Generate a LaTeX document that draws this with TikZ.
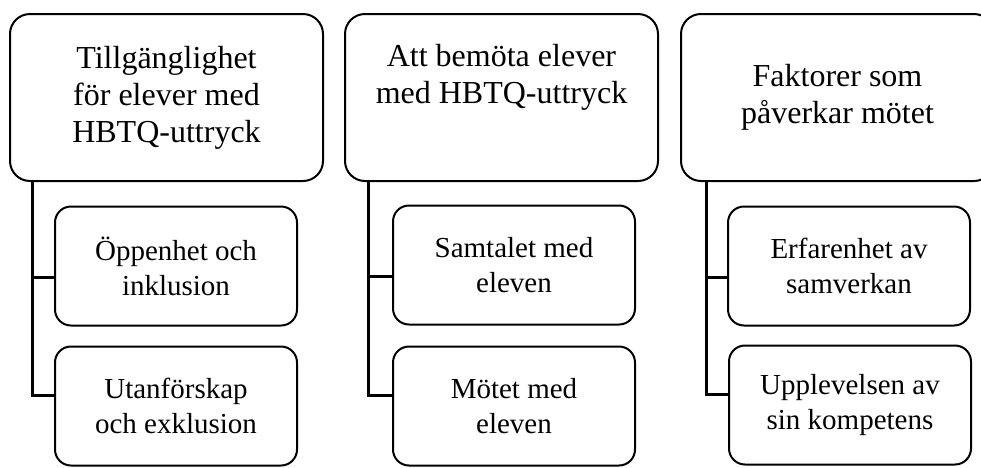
\documentclass[tikz,border=0pt]{standalone}
\usepackage{fontspec}
\setmainfont{Liberation Serif}
\usetikzlibrary{positioning,calc}

\begin{document}
\begin{tikzpicture}[
  x=0.5pt, y=-0.5pt,
  topbox/.style={draw, line width=1pt, rounded corners=10pt, rectangle, minimum width=156.5pt, minimum height=83.5pt, align=center, inner sep=0pt, font=\fontsize{16}{18.5}\selectfont},
  subbox/.style={draw, line width=1pt, rounded corners=8pt, rectangle, minimum width=121pt, minimum height=59.5pt, align=center, inner sep=0pt, font=\fontsize{14.5}{17.5}\selectfont},
  link/.style={line width=1.5pt}
]
\useasboundingbox (0,0) rectangle (981,467);

\node[topbox] (tillg) at (166.5,97.5) {Tillgänglighet\\för elever med\\HBTQ-uttryck};
\node[topbox] (bemot) at (501.5,97.5) {Att bemöta elever\\med HBTQ-uttryck\\\strut};
\node[topbox] (faktor) at (837.5,97.5) {Faktorer som\\påverkar mötet};

\node[subbox] (oppen) at (176,266) {Öppenhet och\\inklusion};
\node[subbox] (utanf) at (176,406) {Utanförskap\\och exklusion};
\node[subbox] (samtal) at (514,265) {Samtalet med\\eleven};
\node[subbox] (motet) at (514,406) {Mötet med\\eleven};
\node[subbox] (erfar) at (849,266) {Erfarenhet av\\samverkan};
\node[subbox] (upplev) at (850,405) {Upplevelsen av\\sin kompetens};

\draw[link] ([xshift=11.5pt]tillg.south west) |- ([yshift=-5.5pt]oppen.west);
\draw[link] ([xshift=11.5pt]tillg.south west) |- ([yshift=5.5pt]utanf.west);
\draw[link] ([xshift=12pt]bemot.south west) |- ([yshift=-5.5pt]samtal.west);
\draw[link] ([xshift=12pt]bemot.south west) |- ([yshift=5.5pt]motet.west);
\draw[link] ([xshift=13pt]faktor.south west) |- ([yshift=-5.5pt]erfar.west);
\draw[link] ([xshift=13pt]faktor.south west) |- ([yshift=5.5pt]upplev.west);
\end{tikzpicture}
\end{document}
